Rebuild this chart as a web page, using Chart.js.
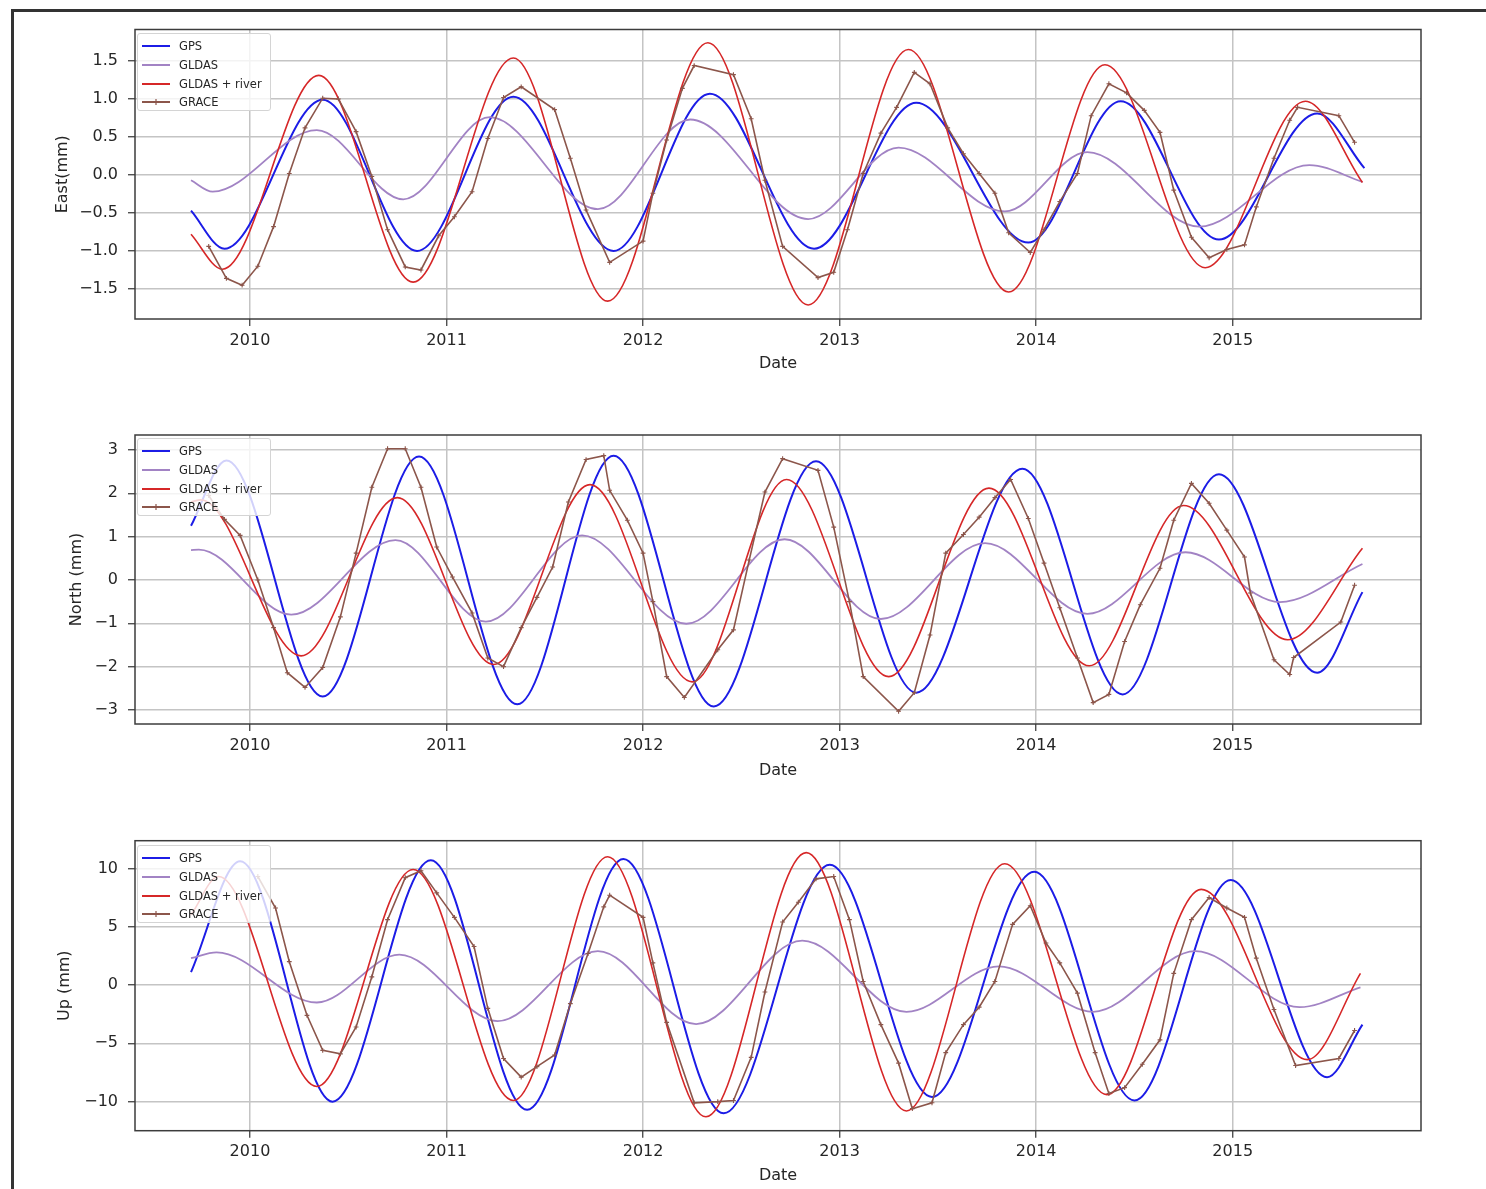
<!DOCTYPE html>
<html>
<head>
<meta charset="utf-8">
<script src="https://cdn.jsdelivr.net/npm/chart.js@4.4.1/dist/chart.umd.min.js"></script>
<style>
  body { margin: 0; background: #fff; width: 1486px; height: 1189px; overflow: hidden; position: relative; font-family: "DejaVu Sans", sans-serif; }
  #frame { position: absolute; left: 11px; top: 9px; width: 1500px; height: 1220px; border: 3px solid #333; box-sizing: border-box; }
  canvas { position: absolute; left: 0; }
  .legend { position: absolute; left: 137px; width: 134px; height: 78px; box-sizing: border-box; padding-top: 3px;
            background: rgba(255,255,255,0.8); border: 1px solid #d4d4d4; border-radius: 3px; z-index: 5; }
  .legend .row { display: flex; align-items: center; height: 18.7px; font-size: 11.5px; color: #262626; }
  .legend svg { margin-left: 4px; margin-right: 9px; }
</style>
</head>
<body>
<div id="frame"></div>

<script>
// ---- data (decimal year, value in mm) ----
// smooth fits: start, every turning point, end; GRACE: every monthly marker
const years = [2010, 2011, 2012, 2013, 2014, 2015];
const eastTicks = [-1.5, -1.0, -0.5, 0, 0.5, 1.0, 1.5];
const northTicks = [-3, -2, -1, 0, 1, 2, 3];
const upTicks = [-10, -5, 0, 5, 10];
const seriesNames = ['GPS', 'GLDAS', 'GLDAS + river', 'GRACE'];

const eastGPS = [[2009.70,-0.47],[2009.87,-0.97],[2010.37,0.99],[2010.85,-1.00],[2011.34,1.03],[2011.85,-1.00],[2012.34,1.07],[2012.87,-0.97],[2013.39,0.95],[2013.96,-0.89],[2014.43,0.97],[2014.93,-0.85],[2015.43,0.81],[2015.67,0.09]];
const eastGLDAS = [[2009.70,-0.07],[2009.81,-0.22],[2010.34,0.59],[2010.78,-0.32],[2011.22,0.76],[2011.77,-0.45],[2012.24,0.73],[2012.84,-0.58],[2013.30,0.36],[2013.84,-0.48],[2014.26,0.30],[2014.83,-0.68],[2015.39,0.13],[2015.66,-0.09]];
const eastRiver = [[2009.70,-0.78],[2009.86,-1.24],[2010.35,1.31],[2010.83,-1.41],[2011.34,1.54],[2011.82,-1.66],[2012.33,1.74],[2012.84,-1.71],[2013.35,1.65],[2013.86,-1.54],[2014.35,1.45],[2014.86,-1.22],[2015.37,0.97],[2015.66,-0.10]];
const eastGRACE = [[2009.79,-0.94],[2009.88,-1.36],[2009.96,-1.45],[2010.04,-1.20],[2010.12,-0.68],[2010.20,0.02],[2010.28,0.62],[2010.37,1.01],[2010.45,1.00],[2010.54,0.57],[2010.62,-0.02],[2010.70,-0.72],[2010.79,-1.21],[2010.87,-1.25],[2010.96,-0.80],[2011.04,-0.55],[2011.13,-0.22],[2011.21,0.48],[2011.29,1.02],[2011.38,1.16],[2011.55,0.86],[2011.63,0.22],[2011.71,-0.46],[2011.83,-1.15],[2012.00,-0.87],[2012.05,-0.24],[2012.12,0.46],[2012.20,1.14],[2012.26,1.44],[2012.46,1.32],[2012.55,0.74],[2012.62,-0.07],[2012.71,-0.94],[2012.89,-1.35],[2012.97,-1.28],[2013.04,-0.72],[2013.12,0.02],[2013.21,0.55],[2013.29,0.89],[2013.38,1.35],[2013.46,1.20],[2013.55,0.62],[2013.63,0.28],[2013.71,0.02],[2013.79,-0.24],[2013.86,-0.76],[2013.97,-1.02],[2014.04,-0.72],[2014.12,-0.35],[2014.21,0.02],[2014.28,0.78],[2014.37,1.20],[2014.46,1.08],[2014.55,0.85],[2014.63,0.56],[2014.70,-0.20],[2014.79,-0.82],[2014.88,-1.09],[2014.97,-0.98],[2015.06,-0.92],[2015.12,-0.42],[2015.21,0.22],[2015.29,0.72],[2015.33,0.89],[2015.54,0.78],[2015.62,0.43]];

const northGPS = [[2009.70,1.25],[2009.88,2.76],[2010.37,-2.69],[2010.86,2.85],[2011.36,-2.87],[2011.85,2.87],[2012.36,-2.92],[2012.88,2.74],[2013.39,-2.60],[2013.93,2.57],[2014.44,-2.64],[2014.93,2.44],[2015.43,-2.14],[2015.66,-0.28]];
const northGLDAS = [[2009.70,0.69],[2009.74,0.70],[2010.21,-0.80],[2010.74,0.92],[2011.20,-0.96],[2011.69,1.03],[2012.22,-1.01],[2012.72,0.94],[2013.21,-0.90],[2013.74,0.85],[2014.26,-0.78],[2014.76,0.64],[2015.24,-0.51],[2015.66,0.37]];
const northRiver = [[2009.70,1.80],[2009.75,1.85],[2010.26,-1.75],[2010.75,1.90],[2011.24,-1.95],[2011.73,2.20],[2012.25,-2.35],[2012.73,2.32],[2013.25,-2.23],[2013.76,2.12],[2014.27,-1.98],[2014.75,1.72],[2015.28,-1.38],[2015.66,0.73]];
const northGRACE = [[2009.79,1.95],[2009.87,1.40],[2009.95,1.03],[2010.04,0.00],[2010.12,-1.10],[2010.19,-2.14],[2010.28,-2.48],[2010.37,-2.02],[2010.46,-0.85],[2010.54,0.62],[2010.62,2.14],[2010.70,3.03],[2010.79,3.03],[2010.87,2.14],[2010.95,0.76],[2011.03,0.07],[2011.13,-0.76],[2011.21,-1.80],[2011.29,-2.00],[2011.38,-1.10],[2011.46,-0.40],[2011.54,0.30],[2011.62,1.80],[2011.71,2.78],[2011.80,2.87],[2011.83,2.07],[2011.92,1.38],[2012.00,0.62],[2012.05,-0.50],[2012.12,-2.23],[2012.21,-2.71],[2012.38,-1.61],[2012.46,-1.15],[2012.54,0.46],[2012.62,2.03],[2012.71,2.80],[2012.89,2.53],[2012.97,1.22],[2013.05,-0.50],[2013.12,-2.23],[2013.30,-3.03],[2013.38,-2.60],[2013.46,-1.27],[2013.54,0.62],[2013.63,1.05],[2013.71,1.45],[2013.79,1.90],[2013.87,2.32],[2013.96,1.42],[2014.04,0.39],[2014.12,-0.64],[2014.21,-1.80],[2014.29,-2.83],[2014.37,-2.64],[2014.45,-1.42],[2014.53,-0.57],[2014.63,0.27],[2014.70,1.38],[2014.79,2.23],[2014.88,1.77],[2014.97,1.15],[2015.06,0.53],[2015.09,-0.30],[2015.21,-1.84],[2015.29,-2.18],[2015.31,-1.79],[2015.55,-0.97],[2015.62,-0.12]];

const upGPS = [[2009.70,1.10],[2009.95,10.60],[2010.42,-10.00],[2010.92,10.70],[2011.41,-10.70],[2011.90,10.80],[2012.41,-11.00],[2012.95,10.30],[2013.47,-9.60],[2013.99,9.70],[2014.50,-9.90],[2014.99,9.00],[2015.48,-7.90],[2015.66,-3.40]];
const upGLDAS = [[2009.70,2.30],[2009.83,2.80],[2010.34,-1.50],[2010.76,2.60],[2011.26,-3.10],[2011.77,2.90],[2012.27,-3.35],[2012.81,3.80],[2013.34,-2.30],[2013.81,1.60],[2014.29,-2.30],[2014.81,2.90],[2015.34,-1.90],[2015.65,-0.20]];
const upRiver = [[2009.70,6.00],[2009.84,9.30],[2010.34,-8.70],[2010.83,9.90],[2011.34,-9.90],[2011.82,11.00],[2012.32,-11.30],[2012.83,11.35],[2013.34,-10.80],[2013.84,10.40],[2014.36,-9.40],[2014.84,8.20],[2015.38,-6.40],[2015.65,1.00]];
const upGRACE = [[2010.04,9.30],[2010.13,6.60],[2010.20,2.00],[2010.29,-2.60],[2010.37,-5.60],[2010.46,-5.90],[2010.54,-3.60],[2010.62,0.70],[2010.70,5.60],[2010.79,9.20],[2010.87,9.80],[2010.95,7.90],[2011.04,5.80],[2011.14,3.30],[2011.21,-2.00],[2011.29,-6.30],[2011.38,-7.90],[2011.46,-7.00],[2011.55,-6.00],[2011.63,-1.60],[2011.72,2.70],[2011.80,6.70],[2011.83,7.70],[2012.00,5.80],[2012.05,1.90],[2012.12,-3.20],[2012.26,-10.10],[2012.38,-10.00],[2012.46,-9.90],[2012.55,-6.20],[2012.62,-0.60],[2012.71,5.40],[2012.79,7.10],[2012.88,9.10],[2012.97,9.30],[2013.05,5.60],[2013.12,0.30],[2013.21,-3.40],[2013.30,-6.70],[2013.37,-10.60],[2013.47,-10.10],[2013.54,-5.80],[2013.63,-3.40],[2013.71,-1.90],[2013.79,0.30],[2013.88,5.20],[2013.97,6.80],[2014.05,3.60],[2014.12,1.90],[2014.21,-0.70],[2014.30,-5.80],[2014.37,-9.30],[2014.45,-8.80],[2014.54,-6.80],[2014.63,-4.70],[2014.70,1.00],[2014.79,5.60],[2014.88,7.50],[2014.97,6.60],[2015.06,5.80],[2015.12,2.30],[2015.21,-2.10],[2015.32,-6.90],[2015.54,-6.30],[2015.62,-3.90]];

// ---- styling ----
const colors = ['#1c1ce6', '#a283c4', '#d62728', '#8c564b'];
const widths = [2, 1.8, 1.6, 1.6];
const textColor = '#262626';
const tickFont = { family: 'DejaVu Sans', size: 16 };
const minus = s => s.replace('-', '\u2212');

// the four-sided box round each plot area
const frameBox = {
  id: 'frameBox',
  afterDatasetsDraw(chart) {
    const { ctx, chartArea: a } = chart;
    ctx.save();
    ctx.strokeStyle = '#3c3c3c';
    ctx.lineWidth = 1.5;
    ctx.strokeRect(a.left, a.top, a.right - a.left, a.bottom - a.top);
    ctx.restore();
  }
};

const panels = [
  { top: 0,   height: 385, chartTop: 29.5, chartBottom: 319,   yMin: -1.895, yMax: 1.914, ticks: eastTicks,  digits: 1,
    label: 'East(mm)',   labelPad: 53, datePad: 12, legendTop: 33,  series: [eastGPS, eastGLDAS, eastRiver, eastGRACE] },
  { top: 400, height: 390, chartTop: 435,  chartBottom: 724,   yMin: -3.323, yMax: 3.346, ticks: northTicks, digits: 0,
    label: 'North (mm)', labelPad: 67, datePad: 10, legendTop: 438, series: [northGPS, northGLDAS, northRiver, northGRACE] },
  { top: 805, height: 384, chartTop: 840.7, chartBottom: 1130.7, yMin: -12.49, yMax: 12.37, ticks: upTicks,   digits: 0,
    label: 'Up (mm)',    labelPad: 55, datePad: 4,  legendTop: 845, series: [upGPS, upGLDAS, upRiver, upGRACE] }
];

function makeLegend(top) {
  const box = document.createElement('div');
  box.className = 'legend';
  box.style.top = top + 'px';
  seriesNames.forEach((name, i) => {
    const row = document.createElement('div');
    row.className = 'row';
    let marker = '';
    if (i === 3) marker = `<line x1="14" y1="1" x2="14" y2="7" stroke="${colors[i]}" stroke-width="1.2"/><line x1="11" y1="4" x2="17" y2="4" stroke="${colors[i]}" stroke-width="1.2"/>`;
    row.innerHTML = `<svg width="28" height="8"><line x1="0" y1="4" x2="28" y2="4" stroke="${colors[i]}" stroke-width="2"/>${marker}</svg><span>${name}</span>`;
    box.appendChild(row);
  });
  document.body.appendChild(box);
}

function makePanel(p) {
  const canvas = document.createElement('canvas');
  canvas.width = 1486;
  canvas.height = p.height;
  canvas.style.top = p.top + 'px';
  document.body.appendChild(canvas);

  const datasets = p.series.map((pts, i) => ({
    label: seriesNames[i],
    data: pts.map(([x, y]) => ({ x, y })),
    borderColor: colors[i],
    backgroundColor: colors[i],
    borderWidth: widths[i],
    // smooth fits go through their turning points with flat tangents; GRACE stays a polyline
    cubicInterpolationMode: i === 3 ? 'default' : 'monotone',
    tension: i === 3 ? 0 : 0.4,
    pointRadius: i === 3 ? 2.4 : 0,
    pointStyle: 'cross',
    pointBorderWidth: 1.1,
    order: 3 - i
  }));

  new Chart(canvas.getContext('2d'), {
    type: 'line',
    data: { datasets },
    plugins: [frameBox],
    options: {
      responsive: false,
      animation: false,
      devicePixelRatio: 1,
      layout: { padding: { top: p.chartTop - p.top, right: 65, left: 0, bottom: 0 } },
      plugins: { legend: { display: false }, tooltip: { enabled: false } },
      scales: {
        x: {
          type: 'linear', min: 2009.415, max: 2015.958,
          afterBuildTicks: s => { s.ticks = years.map(v => ({ value: v })); },
          afterFit: s => { s.height = p.top + p.height - p.chartBottom; },
          grid: { color: '#c4c4c4', lineWidth: 1.5, tickLength: 7, tickColor: '#333', tickWidth: 1.2 },
          border: { display: false },
          ticks: { callback: v => String(v), font: tickFont, color: textColor, padding: 5, maxRotation: 0, autoSkip: false },
          title: { display: true, text: 'Date', font: tickFont, color: textColor, padding: { top: 0, bottom: p.datePad } }
        },
        y: {
          type: 'linear', min: p.yMin, max: p.yMax,
          afterBuildTicks: s => { s.ticks = p.ticks.map(v => ({ value: v })); },
          afterFit: s => { s.width = 135; },
          grid: { color: '#c4c4c4', lineWidth: 1.5, tickLength: 7, tickColor: '#333', tickWidth: 1.2 },
          border: { display: false },
          ticks: { callback: v => minus(v.toFixed(p.digits)), font: tickFont, color: textColor, padding: 10, autoSkip: false },
          title: { display: true, text: p.label, font: tickFont, color: textColor, padding: { top: p.labelPad, bottom: 0 } }
        }
      }
    }
  });

  makeLegend(p.legendTop);
}

panels.forEach(makePanel);
</script>
</body>
</html>
